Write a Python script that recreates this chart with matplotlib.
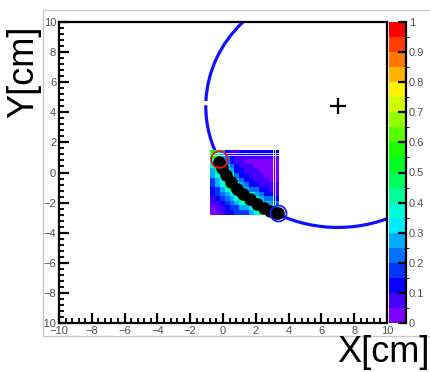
import colorsys
import numpy as np
import matplotlib
matplotlib.use("Agg")
import matplotlib.pyplot as plt
from matplotlib.colors import ListedColormap, BoundaryNorm
from matplotlib.patches import Arc, Rectangle
from matplotlib.transforms import Bbox, TransformedBbox

plt.rcParams["font.family"] = ["Liberation Sans", "DejaVu Sans"]

# ---------------- data ----------------
# 2D likelihood map (rows listed from top y=1.35 down to y=-2.65)
map_x_edges = np.linspace(-0.8, 3.4, 15)
map_y_edges = np.linspace(-2.8, 1.5, 15)
map_rows_top_down = [
    [0.60, 0.42, 0.30, 0.12, 0.08, 0.08, 0.10, 0.10, 0.10, 0.10, 0.10, 0.10, 0.10, 0.10],
    [0.50, 0.60, 0.30, 0.20, 0.12, 0.07, 0.07, 0.06, 0.06, 0.06, 0.06, 0.06, 0.06, 0.06],
    [0.38, 0.60, 0.42, 0.20, 0.12, 0.07, 0.07, 0.03, 0.03, 0.03, 0.03, 0.03, 0.03, 0.03],
    [0.38, 0.50, 0.60, 0.30, 0.20, 0.12, 0.07, 0.07, 0.07, 0.03, 0.03, 0.03, 0.03, 0.03],
    [0.27, 0.45, 0.60, 0.42, 0.30, 0.14, 0.12, 0.07, 0.07, 0.07, 0.03, 0.03, 0.03, 0.03],
    [0.27, 0.38, 0.50, 0.60, 0.42, 0.20, 0.12, 0.12, 0.07, 0.07, 0.07, 0.03, 0.03, 0.03],
    [0.17, 0.27, 0.38, 0.60, 0.60, 0.30, 0.20, 0.12, 0.12, 0.07, 0.07, 0.07, 0.03, 0.03],
    [0.17, 0.27, 0.38, 0.50, 0.60, 0.42, 0.30, 0.20, 0.12, 0.12, 0.07, 0.07, 0.07, 0.07],
    [0.12, 0.17, 0.27, 0.38, 0.50, 0.60, 0.42, 0.30, 0.20, 0.20, 0.12, 0.12, 0.07, 0.07],
    [0.10, 0.17, 0.20, 0.27, 0.38, 0.50, 0.60, 0.45, 0.42, 0.30, 0.20, 0.12, 0.12, 0.07],
    [0.08, 0.12, 0.17, 0.20, 0.27, 0.38, 0.50, 0.60, 0.60, 0.42, 0.30, 0.20, 0.20, 0.12],
    [0.06, 0.08, 0.12, 0.17, 0.20, 0.27, 0.38, 0.50, 0.55, 0.60, 0.42, 0.30, 0.30, 0.20],
    [0.04, 0.06, 0.08, 0.10, 0.17, 0.17, 0.27, 0.27, 0.38, 0.50, 0.60, 0.60, 0.42, 0.42],
    [0.03, 0.04, 0.07, 0.10, 0.10, 0.17, 0.17, 0.17, 0.27, 0.38, 0.50, 0.50, 0.60, 0.60],
]
# empty stripes inside the map
empty_rows_y = [1.30, 1.17]
empty_cols_x = [3.05, 3.17]

# reconstructed track points
track_x = [-0.24, -0.06, 0.18, 0.49, 0.85, 1.22, 1.65, 2.07, 2.50, 2.87, 3.23, 3.35]
track_y = [0.70, 0.30, -0.17, -0.63, -1.10, -1.43, -1.76, -2.09, -2.36, -2.56, -2.69, -2.72]

# start / end points
start_point = (-0.24, 0.90)
end_point = (3.35, -2.69)

# fitted circle: centre, radius, drawn angular range (deg) and gap
circle_center = (7.0, 4.4)
circle_radius = 8.05
arc_segments = [(136.0, 177.5), (179.5, 292.0)]

cbar_ticks = [0.0, 0.1, 0.2, 0.3, 0.4, 0.5, 0.6, 0.7, 0.8, 0.9, 1.0]
cbar_labels = ["0", "0.1", "0.2", "0.3", "0.4", "0.5", "0.6", "0.7", "0.8", "0.9", "1"]
axis_ticks = [-10, -8, -6, -4, -2, 0, 2, 4, 6, 8, 10]
axis_labels = ["\u221210", "\u22128", "\u22126", "\u22124", "\u22122", "0", "2", "4", "6", "8", "10"]

# ---------------- style ----------------
W, H = 431, 372
fig = plt.figure(figsize=(W / 100, H / 100), dpi=100)

def fx(px):
    return px / W

def fy(py):
    return 1 - py / H

ax = fig.add_axes([fx(59), fy(323), fx(387) - fx(59), fy(22) - fy(323)])
cax = fig.add_axes([fx(389), fy(323), fx(406) - fx(389), fy(22) - fy(323)])

# rainbow palette with 20 discrete levels (violet -> red)
n_levels = 20
palette = [colorsys.hsv_to_rgb(0.75 * (1 - k / (n_levels - 1)), 1.0, 1.0) for k in range(n_levels)]
cmap = ListedColormap(palette)
norm = BoundaryNorm(np.linspace(0, 1, n_levels + 1), n_levels)

# circle arc
for t1, t2 in arc_segments:
    ax.add_patch(Arc(circle_center, 2 * circle_radius, 2 * circle_radius,
                     theta1=t1, theta2=t2, color="#1010ff", lw=2.3, zorder=1))

values = np.array(map_rows_top_down)[::-1]
mesh = ax.pcolormesh(map_x_edges, map_y_edges, values, cmap=cmap, norm=norm, zorder=2)

for yv in empty_rows_y:
    ax.plot([map_x_edges[0], map_x_edges[-1]], [yv, yv], color="white", lw=0.7, alpha=0.8, zorder=2.5)
for xv in empty_cols_x:
    ax.plot([xv, xv], [map_y_edges[0], map_y_edges[-1]], color="white", lw=0.7, alpha=0.8, zorder=2.5)

ax.plot(track_x, track_y, "o", color="black", ms=8, zorder=3)
ax.plot(*start_point, "o", mfc="none", mec="#ee1111", mew=1.3, ms=12, zorder=4)
ax.plot(*end_point, "o", mfc="none", mec="#1a1aff", mew=1.3, ms=11.5, zorder=4)
ax.plot(*circle_center, "+", color="black", ms=12, mew=1.6, zorder=4)

ax.set_xlim(-10, 10)
ax.set_ylim(-10, 10)
for s in ax.spines.values():
    s.set_linewidth(1.6)
ax.set_xticks(axis_ticks)
ax.set_xticklabels(axis_labels)
ax.set_yticks(axis_ticks)
ax.set_yticklabels(axis_labels)
ax.set_xticks(np.arange(-10, 10.01, 0.4), minor=True)
ax.set_yticks(np.arange(-10, 10.01, 0.4), minor=True)
ax.tick_params(which="major", direction="in", length=7, width=1.6, labelsize=8,
               labelcolor="#505050", pad=2)
ax.tick_params(which="minor", direction="in", length=3.5, width=1.3)

# tick labels are cut at the pad border
clip = TransformedBbox(Bbox([[fx(43), 0], [1, 1]]), fig.transFigure)
for lbl in ax.get_yticklabels():
    lbl.set_clip_box(clip)
    lbl.set_clip_on(True)

cb = fig.colorbar(mesh, cax=cax, ticks=cbar_ticks)
cb.ax.set_yticklabels(cbar_labels)
cb.outline.set_visible(False)
cax.spines["right"].set_visible(True)
cax.spines["right"].set_linewidth(1.6)
cax.tick_params(direction="in", length=6, width=1.6, labelsize=8, labelcolor="#505050", pad=2)

# pad border
fig.add_artist(Rectangle((fx(43), fy(336)), 1.0, fy(10) - fy(336), transform=fig.transFigure,
                         fill=False, ec="#c8c8c8", lw=1.0))

fig.text(fx(24), fy(72), "Y[cm]", rotation=90, fontsize=26, ha="center", va="center")
fig.text(fx(383), fy(352), "X[cm]", fontsize=26, ha="center", va="center")

fig.savefig("out.png", dpi=100)
